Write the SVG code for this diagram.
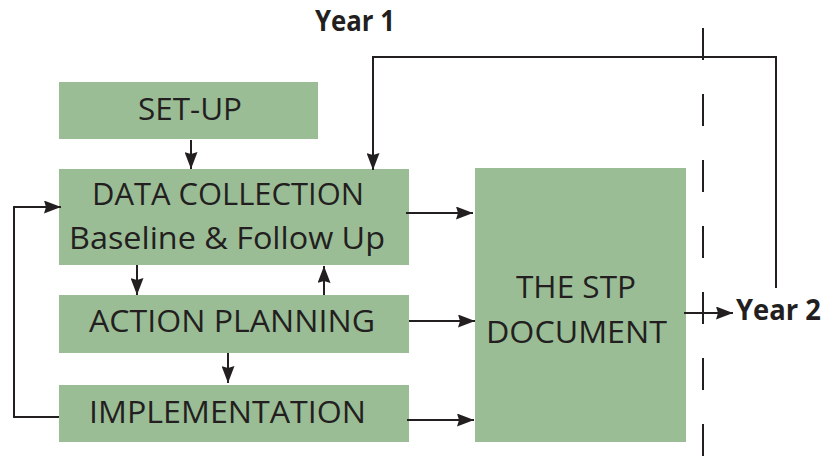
<svg xmlns="http://www.w3.org/2000/svg" width="830" height="459" viewBox="0 0 830 459">
  <style>
    .box { fill: #9bbd96; }
    .lbl { font-family: "Open Sans", "Noto Sans", sans-serif; font-size: 31.5px; fill: #231f20; text-anchor: middle; }
    .yr { font-family: "Open Sans", "Noto Sans", sans-serif; font-size: 28px; font-weight: bold; fill: #231f20; }
    .con { fill: none; stroke: #231f20; stroke-width: 2; }
    .dash { fill: none; stroke: #231f20; stroke-width: 2; stroke-dasharray: 32 34; }
  </style>
  <defs>
    <marker id="arr" markerUnits="userSpaceOnUse" markerWidth="17" markerHeight="13" refX="17" refY="6.5" orient="auto">
      <path d="M0,0 L17,6.5 L0,13 L2,6.5 z" fill="#231f20"/>
    </marker>
  </defs>
  <rect width="830" height="459" fill="#ffffff"/>

  <g id="setup">
    <rect class="box" x="59" y="82" width="259" height="57"/>
    <text class="lbl" x="190" y="120" textLength="104" lengthAdjust="spacingAndGlyphs">SET-UP</text>
  </g>
  <g id="datacollection">
    <rect class="box" x="59" y="169" width="350" height="96"/>
    <text class="lbl" x="228" y="205" textLength="272" lengthAdjust="spacingAndGlyphs">DATA COLLECTION</text>
    <text class="lbl" x="227" y="249" textLength="316" lengthAdjust="spacingAndGlyphs">Baseline &amp; Follow Up</text>
  </g>
  <g id="actionplanning">
    <rect class="box" x="59" y="295" width="350" height="58"/>
    <text class="lbl" x="232" y="332" textLength="286" lengthAdjust="spacingAndGlyphs">ACTION PLANNING</text>
  </g>
  <g id="implementation">
    <rect class="box" x="59" y="385" width="350" height="57"/>
    <text class="lbl" x="227.5" y="423" textLength="277" lengthAdjust="spacingAndGlyphs">IMPLEMENTATION</text>
  </g>
  <g id="stpdocument">
    <rect class="box" x="475" y="168" width="211" height="274"/>
    <text class="lbl" x="576" y="298" textLength="120" lengthAdjust="spacingAndGlyphs">THE STP</text>
    <text class="lbl" x="576.5" y="343" textLength="181" lengthAdjust="spacingAndGlyphs">DOCUMENT</text>
  </g>
  <g id="year1">
    <text class="yr" x="315" y="31" textLength="80" lengthAdjust="spacingAndGlyphs">Year 1</text>
  </g>
  <g id="year2">
    <text class="yr" x="736" y="320" textLength="85" lengthAdjust="spacingAndGlyphs">Year 2</text>
  </g>
  <g id="divider">
    <path class="dash" d="M703,28 V459"/>
  </g>

  <g id="connectors">
    <path class="con" d="M191,140 V169" marker-end="url(#arr)"/>
    <path class="con" d="M137,265 V295" marker-end="url(#arr)"/>
    <path class="con" d="M324,295 V266" marker-end="url(#arr)"/>
    <path class="con" d="M228,353 V383" marker-end="url(#arr)"/>
    <path class="con" d="M59,417 H14 V207 H61" marker-end="url(#arr)"/>
    <path class="con" d="M406,213 H473" marker-end="url(#arr)"/>
    <path class="con" d="M409,321 H475" marker-end="url(#arr)"/>
    <path class="con" d="M407,420 H474" marker-end="url(#arr)"/>
    <path class="con" d="M684,313 H733" marker-end="url(#arr)"/>
    <path class="con" d="M776,288 V57 H373 V170" marker-end="url(#arr)"/>
  </g>
</svg>
